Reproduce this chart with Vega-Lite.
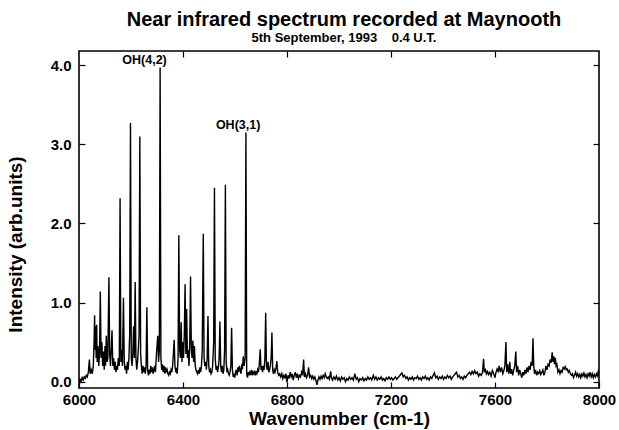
{
  "$schema": "https://vega.github.io/schema/vega-lite/v6.json",
  "width": 520,
  "height": 337,
  "autosize": {"type": "none"},
  "padding": {"left": 79, "top": 51, "right": 20, "bottom": 42},
  "background": "white",
  "title": {
    "text": "Near infrared spectrum recorded at Maynooth",
    "subtitle": "5th September, 1993\u00a0\u00a0\u00a0 0.4 U.T.",
    "font": "Liberation Sans", "fontWeight": "bold", "fontSize": 20, "color": "black",
    "subtitleFont": "Liberation Sans", "subtitleFontWeight": "bold", "subtitleFontSize": 13, "subtitleColor": "black",
    "subtitlePadding": 2, "anchor": "middle", "offset": 5, "dx": 5
  },
  "config": {
    "view": {"stroke": "black", "strokeWidth": 1.6},
    "axis": {
      "labelFont": "Liberation Sans", "labelFontWeight": "bold", "labelFontSize": 15, "labelColor": "black",
      "titleFont": "Liberation Sans", "titleFontWeight": "bold", "titleFontSize": 19, "titleColor": "black",
      "domain": false, "grid": false, "tickColor": "black", "tickWidth": 1.2
    }
  },
  "datasets": {
    "spectrum": [
      {"w":6000,"i":-0.02},{"w":6004,"i":0.03},{"w":6008,"i":0.0},{"w":6012,"i":0.05},{"w":6016,"i":0.02},{"w":6020,"i":0.06},{"w":6024,"i":0.04},{"w":6028,"i":0.08},{"w":6032,"i":0.06},{"w":6036,"i":0.12},{"w":6040,"i":0.28},{"w":6043,"i":0.1},{"w":6047,"i":0.15},{"w":6051,"i":0.1},{"w":6055,"i":0.2},
      {"w":6058,"i":0.5},{"w":6060,"i":0.84},{"w":6062,"i":0.4},{"w":6064,"i":0.7},{"w":6066,"i":0.3},{"w":6068,"i":0.72},{"w":6070,"i":0.25},{"w":6073,"i":0.45},{"w":6076,"i":0.2},{"w":6079,"i":0.35},{"w":6082,"i":1.14},{"w":6085,"i":0.3},{"w":6088,"i":0.5},{"w":6091,"i":0.2},{"w":6094,"i":0.38},{"w":6097,"i":0.15},{"w":6100,"i":0.45},{"w":6102,"i":0.2},{"w":6105,"i":0.58},{"w":6108,"i":0.25},{"w":6111,"i":0.3},{"w":6115,"i":1.32},{"w":6118,"i":0.35},{"w":6121,"i":0.2},{"w":6124,"i":0.4},{"w":6127,"i":0.65},{"w":6130,"i":0.2},{"w":6133,"i":0.3},{"w":6136,"i":0.15},{"w":6139,"i":0.25},{"w":6142,"i":0.12},{"w":6145,"i":0.2},{"w":6148,"i":0.15},{"w":6151,"i":0.3},{"w":6155,"i":0.2},{"w":6158,"i":2.32},{"w":6161,"i":0.25},{"w":6164,"i":0.4},{"w":6167,"i":0.2},{"w":6171,"i":1.06},{"w":6174,"i":0.25},{"w":6177,"i":0.15},{"w":6180,"i":0.2},{"w":6183,"i":0.1},{"w":6186,"i":0.25},{"w":6189,"i":0.15},{"w":6192,"i":0.3},{"w":6195,"i":0.6},{"w":6198,"i":3.27},{"w":6201,"i":0.3},{"w":6204,"i":0.2},{"w":6207,"i":0.35},{"w":6210,"i":0.7},{"w":6213,"i":0.3},{"w":6216,"i":1.26},{"w":6219,"i":0.3},{"w":6222,"i":0.15},{"w":6225,"i":0.25},{"w":6228,"i":0.4},{"w":6231,"i":0.6},{"w":6234,"i":3.1},{"w":6237,"i":0.35},{"w":6240,"i":0.2},{"w":6243,"i":0.1},{"w":6246,"i":0.2},{"w":6249,"i":0.12},{"w":6252,"i":0.18},{"w":6255,"i":0.1},{"w":6258,"i":0.2},{"w":6261,"i":0.94},{"w":6264,"i":0.15},{"w":6267,"i":0.08},{"w":6270,"i":0.15},{"w":6273,"i":0.1},{"w":6276,"i":0.2},{"w":6279,"i":0.12},{"w":6282,"i":0.18},{"w":6285,"i":0.1},{"w":6288,"i":0.15},{"w":6291,"i":0.2},{"w":6294,"i":0.12},{"w":6297,"i":0.3},{"w":6300,"i":0.45},{"w":6303,"i":0.58},{"w":6306,"i":0.25},{"w":6309,"i":0.4},{"w":6312,"i":3.97},{"w":6315,"i":0.3},{"w":6318,"i":0.15},{"w":6321,"i":0.22},{"w":6324,"i":0.12},{"w":6327,"i":0.2},{"w":6330,"i":0.1},{"w":6333,"i":0.18},{"w":6336,"i":0.12},{"w":6339,"i":0.15},{"w":6342,"i":0.1},{"w":6345,"i":0.08},{"w":6348,"i":0.12},{"w":6351,"i":0.1},{"w":6354,"i":0.15},{"w":6357,"i":0.12},{"w":6360,"i":0.2},{"w":6363,"i":0.35},{"w":6366,"i":0.53},{"w":6369,"i":0.2},{"w":6372,"i":0.12},{"w":6375,"i":0.15},{"w":6378,"i":0.1},{"w":6381,"i":0.3},{"w":6384,"i":1.85},{"w":6387,"i":0.4},{"w":6390,"i":0.3},{"w":6393,"i":0.75},{"w":6396,"i":0.25},{"w":6399,"i":0.5},{"w":6402,"i":0.3},{"w":6405,"i":0.6},{"w":6408,"i":1.23},{"w":6411,"i":0.35},{"w":6414,"i":0.92},{"w":6417,"i":0.3},{"w":6420,"i":0.4},{"w":6423,"i":0.2},{"w":6426,"i":0.5},{"w":6429,"i":1.33},{"w":6432,"i":0.4},{"w":6435,"i":0.3},{"w":6438,"i":0.52},{"w":6441,"i":0.25},{"w":6444,"i":0.45},{"w":6447,"i":0.2},{"w":6450,"i":0.15},{"w":6453,"i":0.12},{"w":6456,"i":0.1},{"w":6459,"i":0.15},{"w":6462,"i":0.1},{"w":6465,"i":0.18},{"w":6468,"i":0.12},{"w":6471,"i":0.2},{"w":6474,"i":0.4},{"w":6478,"i":1.87},{"w":6481,"i":0.3},{"w":6484,"i":0.2},{"w":6487,"i":0.25},{"w":6490,"i":0.15},{"w":6493,"i":0.3},{"w":6496,"i":0.83},{"w":6499,"i":0.2},{"w":6502,"i":0.12},{"w":6505,"i":0.15},{"w":6508,"i":0.1},{"w":6511,"i":0.12},{"w":6514,"i":0.2},{"w":6518,"i":0.5},{"w":6521,"i":2.45},{"w":6524,"i":0.3},{"w":6527,"i":0.15},{"w":6530,"i":0.2},{"w":6533,"i":0.12},{"w":6536,"i":0.18},{"w":6539,"i":0.3},{"w":6542,"i":0.76},{"w":6545,"i":0.2},{"w":6548,"i":0.12},{"w":6551,"i":0.2},{"w":6554,"i":0.1},{"w":6557,"i":0.15},{"w":6560,"i":0.4},{"w":6563,"i":2.49},{"w":6566,"i":0.25},{"w":6569,"i":0.12},{"w":6572,"i":0.15},{"w":6575,"i":0.1},{"w":6578,"i":0.08},{"w":6581,"i":0.12},{"w":6584,"i":0.2},{"w":6587,"i":0.68},{"w":6590,"i":0.15},{"w":6593,"i":0.06},{"w":6596,"i":0.1},{"w":6599,"i":0.05},{"w":6602,"i":0.12},{"w":6605,"i":0.15},{"w":6608,"i":0.08},{"w":6611,"i":0.18},{"w":6614,"i":0.12},{"w":6617,"i":0.2},{"w":6620,"i":0.15},{"w":6623,"i":0.1},{"w":6626,"i":0.2},{"w":6629,"i":0.18},{"w":6632,"i":0.32},{"w":6635,"i":0.2},{"w":6639,"i":0.3},{"w":6642,"i":3.15},{"w":6645,"i":0.1},{"w":6648,"i":0.05},{"w":6651,"i":0.12},{"w":6654,"i":0.08},{"w":6657,"i":0.12},{"w":6660,"i":0.1},{"w":6663,"i":0.15},{"w":6666,"i":0.08},{"w":6669,"i":0.12},{"w":6672,"i":0.1},{"w":6675,"i":0.14},{"w":6678,"i":0.08},{"w":6681,"i":0.12},{"w":6684,"i":0.1},{"w":6687,"i":0.15},{"w":6690,"i":0.12},{"w":6693,"i":0.2},{"w":6697,"i":0.41},{"w":6700,"i":0.15},{"w":6703,"i":0.2},{"w":6706,"i":0.12},{"w":6709,"i":0.2},{"w":6712,"i":0.15},{"w":6715,"i":0.3},{"w":6718,"i":0.87},{"w":6721,"i":0.2},{"w":6724,"i":0.15},{"w":6727,"i":0.25},{"w":6730,"i":0.12},{"w":6733,"i":0.15},{"w":6736,"i":0.2},{"w":6739,"i":0.3},{"w":6742,"i":0.62},{"w":6745,"i":0.15},{"w":6748,"i":0.1},{"w":6751,"i":0.15},{"w":6754,"i":0.12},{"w":6758,"i":0.18},{"w":6761,"i":0.26},{"w":6764,"i":0.12},{"w":6768,"i":0.08},{"w":6772,"i":0.1},{"w":6776,"i":0.06},{"w":6780,"i":0.1},{"w":6784,"i":0.04},{"w":6788,"i":0.08},{"w":6792,"i":0.05},{"w":6796,"i":0.1},{"w":6800,"i":-0.01},{"w":6804,"i":0.08},{"w":6808,"i":0.04},{"w":6812,"i":0.12},{"w":6816,"i":0.06},{"w":6820,"i":0.1},{"w":6824,"i":0.02},{"w":6828,"i":0.08},{"w":6832,"i":0.12},{"w":6836,"i":0.05},{"w":6840,"i":0.1},{"w":6844,"i":0.04},{"w":6848,"i":0.08},{"w":6852,"i":0.06},{"w":6856,"i":0.12},{"w":6860,"i":0.08},{"w":6864,"i":0.28},{"w":6867,"i":0.06},{"w":6871,"i":0.1},{"w":6875,"i":0.05},{"w":6879,"i":0.08},{"w":6883,"i":0.18},{"w":6887,"i":0.06},{"w":6891,"i":0.08},{"w":6895,"i":0.04},{"w":6899,"i":0.07},{"w":6903,"i":0.03},{"w":6907,"i":0.06},{"w":6911,"i":0.02},{"w":6915,"i":-0.04},{"w":6919,"i":0.02},{"w":6923,"i":0.06},{"w":6927,"i":0.03},{"w":6931,"i":0.07},{"w":6935,"i":0.04},{"w":6939,"i":0.08},{"w":6943,"i":0.05},{"w":6947,"i":0.1},{"w":6951,"i":0.06},{"w":6955,"i":0.04},{"w":6959,"i":0.06},{"w":6963,"i":0.03},{"w":6968,"i":0.13},{"w":6971,"i":0.05},{"w":6975,"i":0.02},{"w":6980,"i":0.06},{"w":6985,"i":0.03},{"w":6990,"i":0.07},{"w":6995,"i":0.02},
      {"w":7000,"i":0.05},{"w":7005,"i":0.01},{"w":7010,"i":0.06},{"w":7015,"i":0.03},{"w":7020,"i":0.05},{"w":7025,"i":0.0},{"w":7030,"i":0.04},{"w":7035,"i":0.02},{"w":7040,"i":0.06},{"w":7045,"i":0.03},{"w":7050,"i":0.05},{"w":7055,"i":0.02},{"w":7061,"i":0.1},{"w":7066,"i":0.03},{"w":7071,"i":0.05},{"w":7076,"i":0.0},{"w":7081,"i":0.04},{"w":7086,"i":0.02},{"w":7091,"i":0.05},{"w":7096,"i":0.01},{"w":7101,"i":0.04},{"w":7106,"i":0.02},{"w":7111,"i":0.06},{"w":7116,"i":0.03},{"w":7121,"i":0.05},{"w":7126,"i":0.02},{"w":7132,"i":0.08},{"w":7137,"i":0.03},{"w":7142,"i":0.06},{"w":7147,"i":0.02},{"w":7152,"i":0.05},{"w":7157,"i":0.03},{"w":7162,"i":0.06},{"w":7167,"i":0.02},{"w":7172,"i":0.04},{"w":7177,"i":0.01},{"w":7182,"i":0.05},{"w":7187,"i":0.03},{"w":7192,"i":0.06},{"w":7197,"i":0.03},{"w":7202,"i":0.05},{"w":7207,"i":0.02},{"w":7212,"i":0.04},{"w":7217,"i":0.06},{"w":7222,"i":0.03},{"w":7227,"i":0.05},{"w":7232,"i":0.07},{"w":7237,"i":0.09},{"w":7242,"i":0.11},{"w":7247,"i":0.06},{"w":7252,"i":0.08},{"w":7257,"i":0.04},{"w":7262,"i":0.06},{"w":7267,"i":0.02},{"w":7272,"i":0.05},{"w":7277,"i":0.03},{"w":7282,"i":0.06},{"w":7287,"i":0.02},{"w":7292,"i":0.05},{"w":7297,"i":0.04},{"w":7302,"i":0.07},{"w":7307,"i":0.03},{"w":7312,"i":0.05},{"w":7317,"i":0.02},{"w":7322,"i":0.06},{"w":7327,"i":0.04},{"w":7332,"i":0.07},{"w":7337,"i":0.03},{"w":7342,"i":0.05},{"w":7347,"i":0.02},{"w":7352,"i":0.06},{"w":7357,"i":0.04},{"w":7362,"i":0.08},{"w":7367,"i":0.11},{"w":7372,"i":0.05},{"w":7377,"i":0.07},{"w":7382,"i":0.03},{"w":7387,"i":0.06},{"w":7392,"i":0.04},{"w":7397,"i":0.07},{"w":7402,"i":0.03},{"w":7407,"i":0.06},{"w":7412,"i":0.04},{"w":7417,"i":0.08},{"w":7422,"i":0.05},{"w":7427,"i":0.07},{"w":7432,"i":0.03},{"w":7437,"i":0.06},{"w":7442,"i":0.08},{"w":7447,"i":0.1},{"w":7452,"i":0.12},{"w":7457,"i":0.06},{"w":7462,"i":0.08},{"w":7467,"i":0.04},{"w":7472,"i":0.06},{"w":7477,"i":0.03},{"w":7482,"i":0.07},{"w":7487,"i":0.05},{"w":7492,"i":0.08},{"w":7497,"i":0.1},{"w":7502,"i":0.12},{"w":7507,"i":0.09},{"w":7512,"i":0.13},{"w":7517,"i":0.1},{"w":7522,"i":0.14},{"w":7527,"i":0.1},{"w":7532,"i":0.12},{"w":7537,"i":0.07},{"w":7542,"i":0.1},{"w":7547,"i":0.08},{"w":7552,"i":0.12},{"w":7556,"i":0.29},{"w":7559,"i":0.12},{"w":7563,"i":0.15},{"w":7567,"i":0.1},{"w":7571,"i":0.13},{"w":7575,"i":0.09},{"w":7580,"i":0.12},{"w":7585,"i":0.07},{"w":7590,"i":0.14},{"w":7595,"i":0.1},{"w":7600,"i":0.05},{"w":7604,"i":0.12},{"w":7608,"i":0.16},{"w":7612,"i":0.13},{"w":7616,"i":0.2},{"w":7620,"i":0.12},{"w":7625,"i":0.18},{"w":7630,"i":0.1},{"w":7634,"i":0.14},{"w":7638,"i":0.2},{"w":7642,"i":0.5},{"w":7645,"i":0.12},{"w":7649,"i":0.22},{"w":7653,"i":0.1},{"w":7657,"i":0.25},{"w":7660,"i":0.1},{"w":7664,"i":0.16},{"w":7668,"i":0.08},{"w":7672,"i":0.15},{"w":7676,"i":0.2},{"w":7680,"i":0.38},{"w":7683,"i":0.12},{"w":7687,"i":0.2},{"w":7691,"i":0.08},{"w":7695,"i":0.15},{"w":7699,"i":0.1},{"w":7703,"i":0.05},{"w":7707,"i":0.12},{"w":7711,"i":0.08},{"w":7715,"i":0.15},{"w":7719,"i":0.1},{"w":7723,"i":0.18},{"w":7727,"i":0.12},{"w":7731,"i":0.2},{"w":7735,"i":0.15},{"w":7739,"i":0.25},{"w":7743,"i":0.2},{"w":7746,"i":0.55},{"w":7749,"i":0.2},{"w":7752,"i":0.1},{"w":7756,"i":0.15},{"w":7760,"i":0.08},{"w":7764,"i":0.12},{"w":7768,"i":0.1},{"w":7772,"i":0.14},{"w":7776,"i":0.09},{"w":7780,"i":0.12},{"w":7784,"i":0.15},{"w":7788,"i":0.08},{"w":7792,"i":0.12},{"w":7796,"i":0.2},{"w":7800,"i":0.15},{"w":7804,"i":0.22},{"w":7808,"i":0.2},{"w":7812,"i":0.28},{"w":7816,"i":0.24},{"w":7820,"i":0.37},{"w":7823,"i":0.25},{"w":7826,"i":0.32},{"w":7829,"i":0.22},{"w":7832,"i":0.3},{"w":7835,"i":0.2},{"w":7838,"i":0.22},{"w":7842,"i":0.12},{"w":7846,"i":0.15},{"w":7850,"i":0.1},{"w":7854,"i":0.14},{"w":7858,"i":0.12},{"w":7862,"i":0.18},{"w":7866,"i":0.16},{"w":7870,"i":0.19},{"w":7874,"i":0.15},{"w":7878,"i":0.16},{"w":7882,"i":0.12},{"w":7886,"i":0.14},{"w":7890,"i":0.1},{"w":7894,"i":0.08},{"w":7898,"i":0.1},{"w":7902,"i":0.05},{"w":7906,"i":0.08},{"w":7910,"i":0.12},{"w":7914,"i":0.07},{"w":7918,"i":0.1},{"w":7922,"i":0.06},{"w":7926,"i":0.09},{"w":7930,"i":0.05},{"w":7934,"i":0.1},{"w":7938,"i":0.07},{"w":7942,"i":0.11},{"w":7946,"i":0.06},{"w":7950,"i":0.09},{"w":7954,"i":0.05},{"w":7958,"i":0.1},{"w":7962,"i":0.07},{"w":7966,"i":0.12},{"w":7970,"i":0.06},{"w":7974,"i":0.1},{"w":7978,"i":0.05},{"w":7982,"i":0.09},{"w":7986,"i":0.06},{"w":7990,"i":0.1},{"w":7994,"i":0.07},{"w":7998,"i":0.15},{"w":8000,"i":0.08}
    ],
    "labels": [
      {"w": 6252, "i": 4.07, "label": "OH(4,2)"},
      {"w": 6612, "i": 3.24, "label": "OH(3,1)"}
    ]
  },
  "layer": [
    {
      "data": {"name": "spectrum"},
      "mark": {"type": "line", "color": "black", "strokeWidth": 1.4, "clip": true, "interpolate": "linear"},
      "encoding": {
        "x": {"field": "w", "type": "quantitative", "scale": {"domain": [6000, 8000], "nice": false, "zero": false},
              "axis": {"values": [6000, 6400, 6800, 7200, 7600, 8000], "format": "d", "title": "Wavenumber (cm-1)", "tickSize": -6, "labelPadding": 10, "titlePadding": 2, "labelFlush": false}},
        "y": {"field": "i", "type": "quantitative", "scale": {"domain": [-0.08, 4.18], "nice": false, "zero": false},
              "axis": {"values": [0, 1, 2, 3, 4], "format": ".1f", "title": "Intensity (arb.units)", "tickSize": -6, "labelPadding": 14, "titleX": -54, "titleY": 193}}
      }
    },
    {
      "data": {"name": "labels"},
      "mark": {"type": "text", "font": "Liberation Sans", "fontWeight": "bold", "fontSize": 12.5, "color": "black", "baseline": "middle", "align": "center"},
      "encoding": {
        "x": {"field": "w", "type": "quantitative", "scale": {"domain": [6000, 8000], "nice": false, "zero": false},
              "axis": {"orient": "top", "values": [6400, 6800, 7200, 7600], "labels": false, "title": null, "tickSize": -6}},
        "y": {"field": "i", "type": "quantitative", "scale": {"domain": [-0.08, 4.18], "nice": false, "zero": false},
              "axis": {"orient": "right", "values": [0, 1, 2, 3, 4], "labels": false, "title": null, "tickSize": -6}},
        "text": {"field": "label"}
      }
    }
  ],
  "resolve": {"axis": {"x": "independent", "y": "independent"}}
}
